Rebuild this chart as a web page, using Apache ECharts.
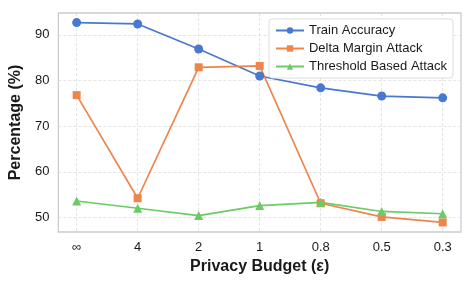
<!DOCTYPE html>
<html><head><meta charset="utf-8">
<script src="https://cdn.jsdelivr.net/npm/echarts@6/dist/echarts.min.js"></script>
<style>html,body{margin:0;padding:0;background:#fff}#c{width:473px;height:284px}</style>
</head><body><div id="c"></div>
<script>
const categories = ['∞', '4', '2', '1', '0.8', '0.5', '0.3'];
const trainAccuracy = [92.7, 92.4, 86.9, 81.0, 78.4, 76.6, 76.2];
const deltaMargin = [76.8, 54.2, 82.9, 83.2, 53.1, 50.1, 48.9];
const thresholdBased = [53.6, 52.0, 50.4, 52.6, 53.3, 51.3, 50.8];
const yTicks = [50, 60, 70, 80, 90];

const pts = arr => arr.map((v, i) => [i, v]);
const font = 'Liberation Sans, Arial, sans-serif';
const chart = echarts.init(document.getElementById('c'), null, {renderer: 'canvas'});
chart.setOption({
  animation: false,
  backgroundColor: '#fff',
  textStyle: {fontFamily: font},
  grid: {left: 54, right: 12, top: 13, bottom: 52, show: true, borderColor: '#cccccc', borderWidth: 1.3, backgroundColor: '#fff'},
  legend: {
    orient: 'vertical', right: 20, top: 19,
    backgroundColor: '#fff', borderColor: '#dddddd', borderWidth: 1, borderRadius: 3,
    padding: [5, 6, 5, 6], itemGap: 5, itemWidth: 28, itemHeight: 8,
    textStyle: {fontSize: 13, color: '#1a1a1a', fontFamily: font},
    data: ['Train Accuracy', 'Delta Margin Attack', 'Threshold Based Attack']
  },
  xAxis: {
    type: 'value', min: -0.3, max: 6.3,
    name: 'Privacy Budget (ε)', nameLocation: 'middle', nameGap: 27,
    nameTextStyle: {fontSize: 16, fontWeight: 'bold', color: '#1a1a1a', fontFamily: font},
    axisLine: {show: false},
    axisTick: {show: false, customValues: [0, 1, 2, 3, 4, 5, 6]},
    axisLabel: {customValues: [0, 1, 2, 3, 4, 5, 6], formatter: v => categories[Math.round(v)], fontSize: 13, color: '#1a1a1a', margin: 9, fontFamily: font},
    splitLine: {show: true, lineStyle: {color: '#dddddd', type: [3, 2], width: 0.8}}
  },
  yAxis: {
    type: 'value', min: 46.8, max: 94.8,
    name: 'Percentage (%)', nameLocation: 'middle', nameGap: 26,
    nameTextStyle: {fontSize: 16, fontWeight: 'bold', color: '#1a1a1a', fontFamily: font},
    axisLine: {show: false},
    axisTick: {show: false, customValues: yTicks},
    axisLabel: {customValues: yTicks, fontSize: 13, color: '#1a1a1a', margin: 9, fontFamily: font},
    splitLine: {show: true, lineStyle: {color: '#dddddd', type: [3, 2], width: 0.8}}
  },
  series: [
    {name: 'Train Accuracy', type: 'line', data: pts(trainAccuracy), symbol: 'circle', symbolSize: 9,
     itemStyle: {color: '#4878d0'}, lineStyle: {color: '#4878d0', width: 1.7}},
    {name: 'Delta Margin Attack', type: 'line', data: pts(deltaMargin), symbol: 'rect', symbolSize: 8,
     itemStyle: {color: '#ee854a'}, lineStyle: {color: '#ee854a', width: 1.7}},
    {name: 'Threshold Based Attack', type: 'line', data: pts(thresholdBased), symbol: 'triangle', symbolSize: 9,
     itemStyle: {color: '#6acc64'}, lineStyle: {color: '#6acc64', width: 1.7}}
  ]
});
</script></body></html>
